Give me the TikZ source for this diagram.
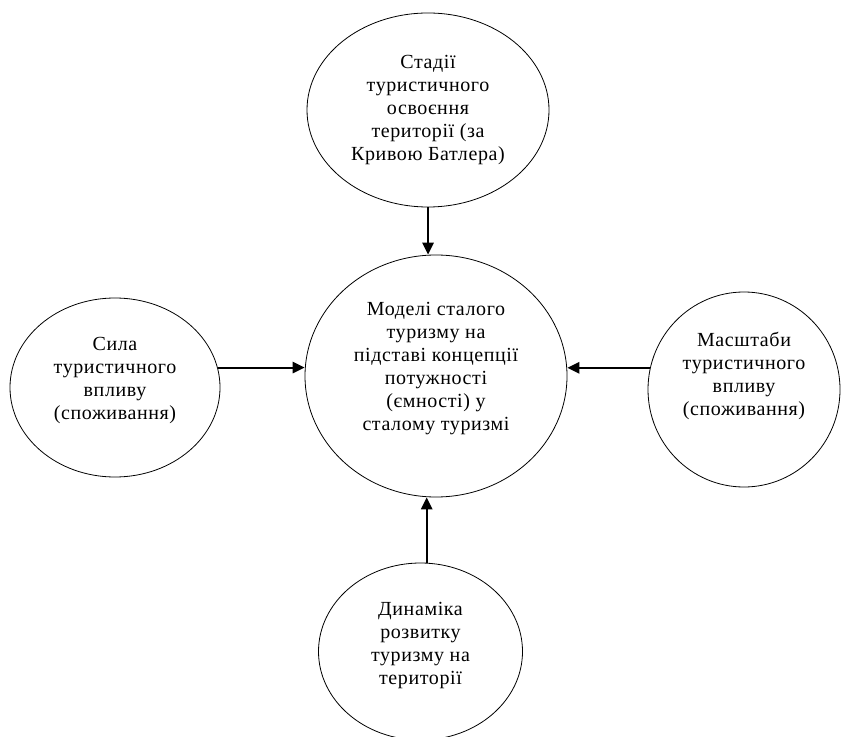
\documentclass[tikz,border=0pt]{standalone}
\usepackage{fontspec}
\setmainfont[LetterSpace=3]{Liberation Serif}
\usetikzlibrary{shapes.geometric,arrows.meta}
\tikzset{oval/.style={draw,ellipse,line width=0.6pt,inner sep=0pt,align=center,
    font=\fontsize{15}{17.25}\selectfont},
  link/.style={line width=1.5pt,-{Triangle[length=9pt,width=8.5pt]}}}
\newcommand{\dropstrut}[1]{\rule[-#1]{0pt}{#1}}
\begin{document}
\begin{tikzpicture}[x=0.75pt,y=0.75pt]
  \useasboundingbox (0,0) rectangle (841,736);
  \clip (0,0) rectangle (841,736);
  \node (stages) [oval,minimum width=181.5pt,minimum height=145.5pt] at (428,626) {Стадії\\туристичного\\освоєння\\території (за\\Кривою Батлера)};
  \node (models) [oval,minimum width=196.5pt,minimum height=181.5pt] at (436,360) {Моделі сталого\\туризму на\\підставі концепції\\потужності\\(ємності) у\\сталому туризмі\dropstrut{15pt}};
  \node (force) [oval,minimum width=157.5pt,minimum height=134.25pt] at (115,348.5) {Сила\\туристичного\\впливу\\(споживання)\dropstrut{14pt}};
  \node (scale) [oval,minimum width=144pt,minimum height=146.25pt] at (744,346.5) {Масштаби\\туристичного\\впливу\\(споживання)\dropstrut{24pt}};
  \node (dynamics) [oval,minimum width=153pt,minimum height=132.75pt] at (420.5,84.5) {Динаміка\\розвитку\\туризму на\\території\dropstrut{12pt}};
  \draw [link] (stages.south) -- (stages.south |- models.north);
  \draw [link] (force.11) -- (force.11 -| models.west);
  \draw [link] (scale.167) -- (scale.167 -| models.east);
  \draw [link] (dynamics.86) -- (dynamics.86 |- models.south);
\end{tikzpicture}
\end{document}
